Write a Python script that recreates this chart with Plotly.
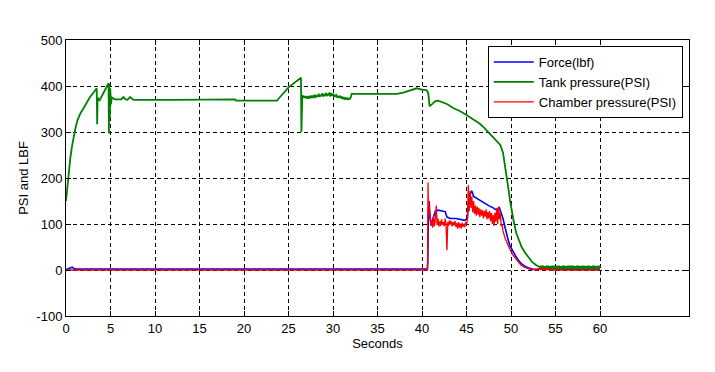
import numpy as np
import plotly.graph_objects as go

# ---------------- Tank pressure (PSI) ----------------
tank_t_a = [0, 0.1, 0.2, 0.3, 0.5, 0.7, 0.9, 1.1, 1.3, 1.6, 1.95, 2.3, 2.7, 3.1, 3.45, 3.5, 3.55,
            3.75, 4.0, 4.3, 4.6, 4.78, 4.82, 4.87, 4.92, 4.97, 5.05, 5.15, 5.5, 6.2, 6.45, 6.7, 6.9,
            7.2, 7.5, 7.7, 12, 19, 19.1, 23.7, 24.0, 25.0, 26.4, 26.45, 26.55, 26.7]
tank_p_a = [150, 170, 192, 210, 246, 272, 293, 312, 326, 340, 351, 364, 376, 386, 395, 317, 375,
            368, 378, 390, 400, 406, 297, 405, 330, 395, 360, 375, 371, 371, 376, 371, 370,
            376, 371, 370, 370, 371, 368, 368, 375, 397, 418, 300, 380, 376]
# noisy stretch sampled every 0.1 s from 26.8 s
tank_b_start, tank_b_step = 26.8, 0.1
tank_p_b = [377, 375, 378, 374, 376, 373, 377, 375, 379, 374,
            378, 376, 381, 375, 380, 377, 383, 376, 381, 378,
            384, 377, 382, 379, 385, 378, 383, 380, 386, 377,
            384, 379, 383, 376, 381, 378, 380, 374, 378, 375,
            379, 373, 377, 372, 376, 370, 375, 371, 374, 370,
            373, 372, 375, 383]
tank_t_c = [32.2, 37.2, 38.0, 39.0, 39.4, 40.0, 40.5, 40.7, 40.85, 41.1, 41.5, 41.8, 42.3, 42.8,
            43.5, 44.3, 45.0, 45.8, 46.5, 47.0, 47.6, 48.2, 48.8, 49.1, 49.3, 49.5, 49.7, 49.9,
            50.1, 50.3, 50.6, 50.9, 51.2, 51.6, 52.0, 52.4, 52.8, 53.3]
tank_p_c = [383, 383, 386, 392, 395, 392, 391, 385, 356, 360, 367, 368, 365, 361,
            352, 345, 337, 326, 318, 309, 297, 285, 272, 255, 232, 205, 178, 150,
            125, 106, 80, 64, 50, 37, 26, 17, 11, 6]
# thick tail sampled every 0.1 s from 53.4 s
tank_d_start, tank_d_step = 53.4, 0.1
tank_p_d = [9, 2, 9, 3, 8, 2, 9, 2, 9, 3, 8, 2, 9, 2, 9, 3, 8,
            2, 9, 2, 9, 3, 8, 2, 9, 2, 9, 3, 8, 2, 9, 2, 9, 3,
            9, 2, 9, 3, 8, 2, 9, 2, 9, 3, 8, 2, 9, 2, 9, 3, 8,
            2, 9, 2, 9, 3, 8, 2, 9, 2, 9, 3, 8, 2, 9, 2, 9]

# ---------------- Force (lbf) ----------------
force_t_a = [0, 0.3, 0.5, 0.7, 0.9, 1.1, 40.6, 40.65, 40.72, 40.8, 40.9, 41.0, 41.2, 41.5, 41.8,
             42.2, 42.6, 42.8, 43.2, 43.8, 44.3, 44.8, 45.1, 45.2, 45.4, 45.6, 45.8, 46.2,
             46.6, 47.0, 47.5, 48.0, 48.4, 48.7, 48.9, 49.1, 49.3, 49.5, 49.7, 49.9, 50.2,
             50.5, 50.8, 51.1, 51.5, 51.9, 52.4, 60]
force_v_a = [1, 3, 5, 6, 3, 2, 2, 15, 130, 150, 115, 100, 110, 128, 130,
             129, 127, 115, 112, 112, 110, 108, 112, 140, 165, 172, 160, 155,
             150, 146, 140, 135, 130, 135, 125, 112, 95, 78, 64, 52, 40,
             31, 22, 15, 9, 5, 2, 1]

# ---------------- Chamber pressure (PSI) ----------------
chamber_t_a = [0, 40.62, 40.68, 40.72, 40.78, 40.84, 40.9]
chamber_v_a = [0, 0, 190, 120, 150, 130, 105]
# noisy stretch sampled every 0.1 s from 41.0 s
chamber_b_start, chamber_b_step = 41.0, 0.1
chamber_v_b = [96, 108, 92, 118, 95, 110, 140, 98, 112, 94,
               106, 96, 110, 98, 104, 95, 112, 100, 43, 105,
               96, 108, 99, 106, 95, 104, 97, 107, 94, 102,
               90, 104, 92, 101, 90, 103, 94, 100, 93, 104,
               98, 110, 185, 128, 172, 135, 160, 125, 150, 122,
               140, 118, 138, 120, 135, 115, 132, 118, 130, 112,
               128, 116, 132, 110, 126, 112, 128, 106, 124, 100,
               120, 96, 125, 105, 135, 100, 138, 110, 125, 95,
               100, 85, 76]
chamber_t_c = [49.35, 49.5, 49.7, 49.9, 50.2, 50.5, 50.8, 51.1, 51.5, 51.9, 52.4, 52.95]
chamber_v_c = [68, 62, 52, 44, 33, 25, 17, 11, 6, 3, 1, 0]
chamber_d_start, chamber_d_step = 53.0, 0.1
chamber_v_d = [4, 0, 4, 0, 4, 0, 4, 0, 4, 0, 4, 0, 4]
chamber_t_e = [54.3, 60]
chamber_v_e = [0, 0]

x_ticks = [0, 5, 10, 15, 20, 25, 30, 35, 40, 45, 50, 55, 60]
y_ticks = [-100, 0, 100, 200, 300, 400, 500]


def sampled(start, step, vals):
    return [round(start + i * step, 3) for i in range(len(vals))]


tank_t = tank_t_a + sampled(tank_b_start, tank_b_step, tank_p_b) + tank_t_c + \
    sampled(tank_d_start, tank_d_step, tank_p_d)
tank_p = tank_p_a + tank_p_b + tank_p_c + tank_p_d

chamber_t = chamber_t_a + sampled(chamber_b_start, chamber_b_step, chamber_v_b) + chamber_t_c + \
    sampled(chamber_d_start, chamber_d_step, chamber_v_d) + chamber_t_e
chamber_v = chamber_v_a + chamber_v_b + chamber_v_c + chamber_v_d + chamber_v_e

FONT = "Liberation Sans, Arial, Helvetica, sans-serif"

fig = go.Figure()
fig.add_trace(go.Scatter(x=force_t_a, y=force_v_a, mode="lines", name="Force(lbf)",
                         line=dict(color="#0000ff", width=1.6)))
fig.add_trace(go.Scatter(x=tank_t, y=tank_p, mode="lines", name="Tank pressure(PSI)",
                         line=dict(color="#008000", width=1.8)))
fig.add_trace(go.Scatter(x=chamber_t, y=chamber_v, mode="lines", name="Chamber pressure(PSI)",
                         line=dict(color="#ff0000", width=1.3)))

axis_common = dict(
    showline=True, linecolor="black", linewidth=1, mirror="ticks",
    ticks="inside", ticklen=5, tickcolor="black",
    showgrid=True, gridcolor="black", gridwidth=1, griddash="4px,3px",
    zeroline=False, tickfont=dict(family=FONT, size=13, color="black"),
    automargin=False,
)

fig.update_layout(
    width=715, height=372,
    margin=dict(l=66, r=26, t=40, b=56),
    paper_bgcolor="white", plot_bgcolor="white",
    font=dict(family=FONT, size=13, color="black"),
    showlegend=True,
    legend=dict(x=0.99, y=0.978, xanchor="right", yanchor="top",
                bgcolor="white", bordercolor="black", borderwidth=1,
                font=dict(family=FONT, size=13, color="black"),
                itemwidth=40, tracegroupgap=0),
    xaxis=dict(range=[0, 70], tickvals=x_ticks, ticktext=[str(v) for v in x_ticks],
               title=dict(text="Seconds", standoff=4, font=dict(family=FONT, size=13)),
               **axis_common),
    yaxis=dict(range=[-100, 500], tickvals=y_ticks, ticktext=[str(v) for v in y_ticks],
               title=dict(text="PSI and LBF", standoff=4, font=dict(family=FONT, size=13)),
               **axis_common),
)

fig.write_html("out.html", config={"displayModeBar": False},
               post_script="document.body.style.margin='0px';")
